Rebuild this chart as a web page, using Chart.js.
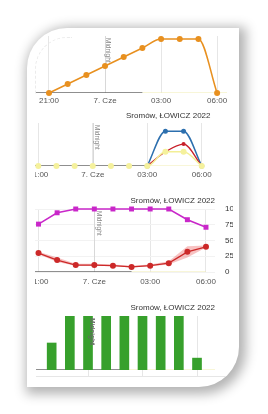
<!DOCTYPE html>
<html><head><meta charset="utf-8">
<script src="https://cdn.jsdelivr.net/npm/chart.js@4.4.1/dist/chart.umd.min.js"></script>
<style>
html,body{margin:0;padding:0;background:#fff;}
body{width:268px;height:414px;position:relative;overflow:hidden;font-family:"Liberation Sans",Arial,sans-serif;}
#card{position:absolute;left:27px;top:28px;width:212px;height:359px;background:#fff;border-radius:40px 0 40px 0;box-shadow:3px 3px 12px 4px rgba(0,0,0,0.3);overflow:hidden;}
.wrap{position:absolute;overflow:hidden;}
.wrap canvas{position:absolute;}
#dash{position:absolute;left:8px;top:9px;width:36px;height:56px;border-left:1px dashed #ebebeb;border-top:1px dashed #ebebeb;border-top-left-radius:32px;}
</style></head>
<body>
<div id="card">
  <div id="dash"></div>
  <div class="wrap" style="left:0;top:0;width:212px;height:80px;"><canvas id="c1" width="213" height="80" style="left:0;top:0;"></canvas></div>
  <div class="wrap" style="left:8px;top:80px;width:204px;height:78px;"><canvas id="c2" width="196" height="77" style="left:-15px;top:0;"></canvas></div>
  <div class="wrap" style="left:8px;top:162px;width:198px;height:100px;"><canvas id="c3" width="225" height="100" style="left:-15px;top:0;"></canvas></div>
  <div class="wrap" style="left:9px;top:270px;width:203px;height:78px;border-bottom:1px solid #e6e6e6;"><canvas id="c4" width="196" height="95" style="left:-16px;top:0;"></canvas></div>
</div>
<script>
// ---- data ----
const hourIdx = [0,1,2,3,4,5,6,7,8,9];            // 21:00 ... 06:00
const tickValues = [0,3,6,9];
const tickLabels = ['21:00','7. Cze','03:00','06:00'];
const MIDNIGHT = 3;
const titleText = 'Sromów, ŁOWICZ 2022';

const chart1Values = [0,1,2,3,4,5,6,6,6,0];

const chart2Blue   = [null,null,null,null,null,null,0,81,81,0];
const chart2Red    = [null,null,null,null,null,null,0,33,51,0];
const chart2Yellow = [0,0,0,0,0,0,0,33,33,0];

const chart3Magenta = [76,94,100,100,100,100,100,100,83,71];
const chart3Red     = [30,19,11,11,10,8,10,14,32,40];
const chart3Upper   = [32,23,13,13,12,10,12,17,41,42];
const chart3Lower   = [28,16,10,10,9,7,9,12,23,39];
const chart3YTicks  = [0,25,50,75,100];

const chart4Hours = [1,2,3,4,5,6,7,8,9];
const chart4Bars  = [50,100,100,100,100,100,100,100,22];

const nightEnd = [5, 6, 5, 5];

// ---- helpers ----
const FONT = '"Liberation Sans", Arial, sans-serif';
function pts(vals, xs){ xs = xs || hourIdx; return vals.map((v,i)=>({x:xs[i], y:v})); }
function strips(xmin, nEnd, xmax){
  return [
    {type:'line', data:[{x:xmin,y:0},{x:nEnd,y:0}], borderColor:'#6a6a6a', borderWidth:1.5, pointRadius:0, order:10, tension:0},
    {type:'line', data:[{x:nEnd,y:0},{x:xmax,y:0}], borderColor:'#f1edb2', borderWidth:1.2, pointRadius:0, order:11, tension:0}
  ];
}
const midnightPlugin = {
  id:'midnight',
  beforeDatasetsDraw(chart, args, o){
    const x = chart.scales.x.getPixelForValue(MIDNIGHT), a = chart.chartArea, c = chart.ctx;
    c.save(); c.strokeStyle = o.lineColor || '#d8d8d8'; c.lineWidth = 1;
    c.beginPath(); c.moveTo(Math.round(x)+0.5, a.top); c.lineTo(Math.round(x)+0.5, a.bottom); c.stroke(); c.restore();
  },
  afterDatasetsDraw(chart, args, o){
    const x = chart.scales.x.getPixelForValue(MIDNIGHT), a = chart.chartArea, c = chart.ctx;
    c.save(); c.translate(x + (o.dx||3.5), a.top + (o.dy||2)); c.rotate(Math.PI/2);
    c.font = (o.bold?'bold ':'') + (o.size||6.5) + 'px ' + FONT; c.fillStyle = o.color || '#888';
    c.textBaseline = 'middle'; c.textAlign = 'left'; c.fillText('Midnight', 0, 0); c.restore();
  }
};
function xScale(min, max, h, pad, extra){
  return Object.assign({
    type:'linear', min:min, max:max, offset:false,
    afterBuildTicks: ax => { ax.ticks = tickValues.map(v=>({value:v})); },
    afterFit: s => { s.height = h; },
    ticks:{ callback: v => tickLabels[tickValues.indexOf(v)], color:'#555', font:{family:FONT,size:8}, padding:pad, maxRotation:0, autoSkip:false },
    grid:{ color:'#e6e6e6', drawTicks:false },
    border:{ display:false }
  }, extra||{});
}
function title(pt, pb){
  return { display:true, text:titleText, align:'end', fullSize:false, color:'#333', font:{family:FONT,size:8,weight:'normal'}, padding:{top:pt,bottom:pb} };
}
const base = { responsive:false, animation:false, devicePixelRatio:1, events:[] };

// ---- chart 1 ----
new Chart(document.getElementById('c1'), {
  type:'line',
  data:{ datasets:[
    {data:pts(chart1Values), borderColor:'#e8901f', backgroundColor:'#e8901f', borderWidth:1.5, pointRadius:3, pointBorderWidth:0, cubicInterpolationMode:'monotone', clip:false, order:1},
    ...strips(-0.696, nightEnd[0], 9.53)
  ]},
  options:Object.assign({}, base, {
    layout:{padding:{left:9,right:13,top:8,bottom:0}},
    scales:{ x:xScale(-0.696, 9.53, 15, 3), y:{display:false, min:0, max:6.33} },
    plugins:{ legend:{display:false}, tooltip:{enabled:false}, midnight:{dx:3, size:6.5} }
  }),
  plugins:[midnightPlugin]
});

// ---- chart 2 ----
new Chart(document.getElementById('c2'), {
  type:'line',
  data:{ datasets:[
    {data:pts(chart2Yellow), borderColor:'#f3ef96', backgroundColor:'#f5f19c', borderWidth:1.5, pointRadius:3, pointBorderWidth:0, cubicInterpolationMode:'monotone', clip:false, order:1,
      segment:{ borderColor: ctx => ctx.p0DataIndex < 6 ? 'rgba(0,0,0,0)' : '#f3ef96' }},
    {data:pts(chart2Red), borderColor:'#c8202a', backgroundColor:'#c8202a', borderWidth:1.3, pointRadius:2, pointBorderWidth:0, cubicInterpolationMode:'monotone', clip:false, order:2},
    {data:pts(chart2Blue), borderColor:'#2c6fae', backgroundColor:'#2c6fae', borderWidth:1.5, pointRadius:2.5, pointBorderWidth:0, cubicInterpolationMode:'monotone', clip:false, order:3},
    ...strips(-0.457, nightEnd[1], 9)
  ]},
  options:Object.assign({}, base, {
    layout:{padding:{left:10,right:1,top:0,bottom:0}},
    scales:{ x:xScale(-0.457, 9.484, 19, 4), y:{display:false, min:0, max:100} },
    plugins:{ legend:{display:false}, tooltip:{enabled:false}, title:title(3,2.4), midnight:{dx:4, size:6.5} }
  }),
  plugins:[midnightPlugin]
});

// ---- chart 3 ----
new Chart(document.getElementById('c3'), {
  type:'line',
  data:{ datasets:[
    {data:pts(chart3Magenta), borderColor:'#c927c9', backgroundColor:'#c927c9', borderWidth:1.5, pointStyle:'rect', pointRadius:3.5, pointBorderWidth:0, tension:0, clip:false, order:1},
    {data:pts(chart3Red), borderColor:'#cc2929', backgroundColor:'#cc2929', borderWidth:1.3, pointRadius:3, pointBorderWidth:0, tension:0, clip:false, order:2},
    {data:pts(chart3Upper), borderWidth:0, pointRadius:0, fill:false, tension:0, order:3},
    {data:pts(chart3Lower), borderWidth:0, pointRadius:0, fill:'-1', backgroundColor:'rgba(236,110,110,0.42)', tension:0, order:4},
    ...strips(-0.457, nightEnd[2], 9)
  ]},
  options:Object.assign({}, base, {
    layout:{padding:{left:10,right:0,top:0,bottom:0}},
    scales:{
      x:xScale(-0.457, 9.484, 18, 5),
      y:{ position:'right', min:0, max:100,
          afterBuildTicks: ax => { ax.ticks = chart3YTicks.map(v=>({value:v})); },
          afterFit: s => { s.width = 30; },
          ticks:{ color:'#333', font:{family:FONT,size:8}, padding:10 },
          grid:{ color:'#f2f2f2', drawTicks:false }, border:{display:false} }
    },
    plugins:{ legend:{display:false}, tooltip:{enabled:false}, title:title(6,3.4), midnight:{dx:4, size:6.5}, filler:{propagate:false} }
  }),
  plugins:[midnightPlugin]
});

// ---- chart 4 ----
new Chart(document.getElementById('c4'), {
  type:'bar',
  data:{ datasets:[
    {type:'bar', data:pts(chart4Bars, chart4Hours), backgroundColor:'#37a02c', barThickness:9, order:1},
    ...strips(-0.193, nightEnd[3], 9.99)
  ]},
  options:Object.assign({}, base, {
    layout:{padding:{left:10,right:1,top:0,bottom:0}},
    scales:{
      x:xScale(-0.193, 9.99, 23, 3, { grid:{ color:'#e6e6e6', drawTicks:true, tickLength:6, offset:false } }),
      y:{display:false, min:0, max:100}
    },
    plugins:{ legend:{display:false}, tooltip:{enabled:false}, title:title(5,3.4), midnight:{dx:4, size:6.5, bold:true, color:'#666'} }
  }),
  plugins:[midnightPlugin]
});
</script>
</body></html>
